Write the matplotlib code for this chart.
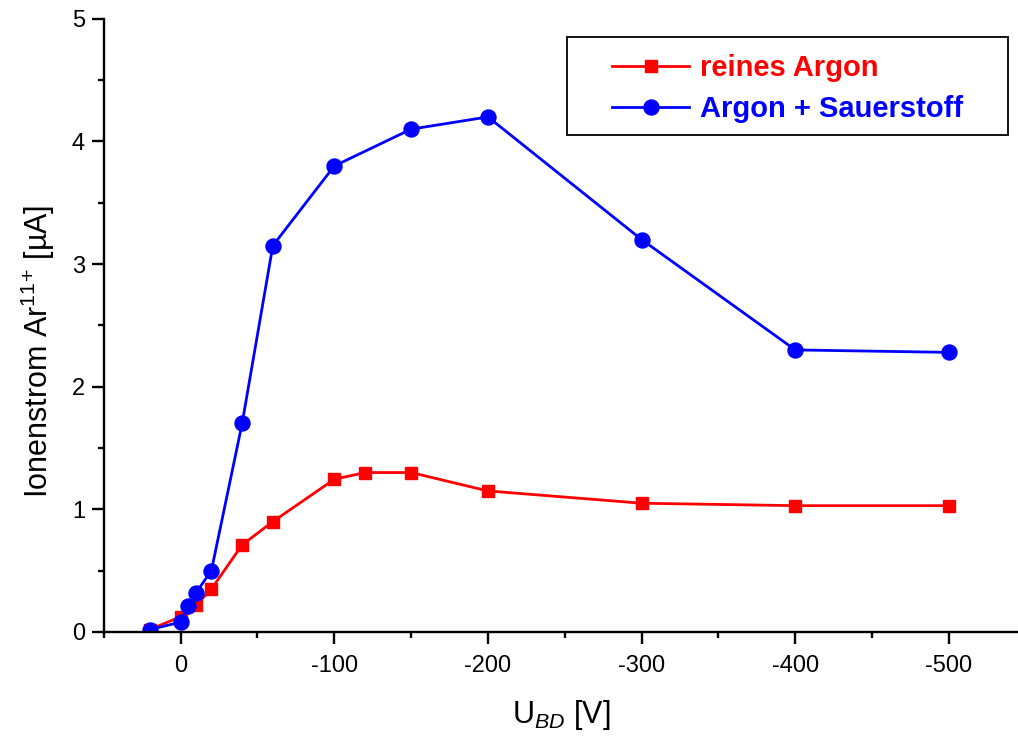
import numpy as np
import matplotlib.pyplot as plt
from matplotlib.ticker import MultipleLocator
from matplotlib.patches import Rectangle

plt.rcParams['font.family'] = ['Liberation Sans', 'DejaVu Sans']
plt.rcParams['mathtext.fontset'] = 'custom'
plt.rcParams['mathtext.rm'] = 'Liberation Sans'
plt.rcParams['mathtext.it'] = 'Liberation Sans:italic'
plt.rcParams['axes.unicode_minus'] = False

# data (U_BD in V, current in uA)
u_argon = [20, 0, -10, -20, -40, -60, -100, -120, -150, -200, -300, -400, -500]
i_argon = [0.02, 0.125, 0.22, 0.35, 0.71, 0.9, 1.245, 1.30, 1.30, 1.15, 1.05, 1.03, 1.03]

u_sauer = [20, 0, -5, -10, -20, -40, -60, -100, -150, -200, -300, -400, -500]
i_sauer = [0.02, 0.08, 0.21, 0.32, 0.50, 1.70, 3.15, 3.80, 4.10, 4.20, 3.20, 2.30, 2.28]

fig = plt.figure(figsize=(10.18, 7.37), dpi=100)
ax = fig.add_axes([0.102, 0.1425, 0.898, 0.832])

ax.plot(u_argon, i_argon, color='#ff0000', lw=2, marker='s', ms=9.2,
        label='reines Argon')
ax.plot(u_sauer, i_sauer, color='#0000ff', lw=2, marker='o', ms=10.8,
        label='Argon + Sauerstoff')

ax.set_xlim(50, -545)
ax.set_ylim(0, 5)
ax.xaxis.set_major_locator(MultipleLocator(100))
ax.xaxis.set_minor_locator(MultipleLocator(50))
ax.yaxis.set_major_locator(MultipleLocator(1))
ax.yaxis.set_minor_locator(MultipleLocator(0.5))

for s in ['top', 'right']:
    ax.spines[s].set_visible(False)
for s in ['left', 'bottom']:
    ax.spines[s].set_linewidth(1.7)
ax.tick_params(which='major', direction='out', length=8.5, width=1.7, labelsize=17)
ax.tick_params(which='minor', direction='out', length=4.2, width=1.7)
ax.tick_params(axis='x', pad=8)
ax.tick_params(axis='y', pad=5)

ax.set_xlabel(r'U$_{BD}$ [V]', fontsize=22)
ax.set_ylabel(r'Ionenstrom Ar$^{11}$$^{+}$ [µA]', fontsize=22)
ax.xaxis.set_label_coords(0.5, -0.108)
ax.yaxis.set_label_coords(-0.051, 0.457)

# legend with a wide box
box = Rectangle((0.5066, 0.8107), 0.4825, 0.160, transform=ax.transAxes,
                fill=False, edgecolor='black', lw=1.3, zorder=5)
ax.add_patch(box)
leg = ax.legend(loc='center', bbox_to_anchor=(0.7478, 0.886), frameon=False,
                handlelength=2.65, handletextpad=0.35, labelspacing=0.44,
                borderaxespad=0, prop={'weight': 'bold', 'size': 21})
for line, text in zip(leg.get_lines(), leg.get_texts()):
    text.set_color(line.get_color())

fig.savefig('out.png', dpi=100)
